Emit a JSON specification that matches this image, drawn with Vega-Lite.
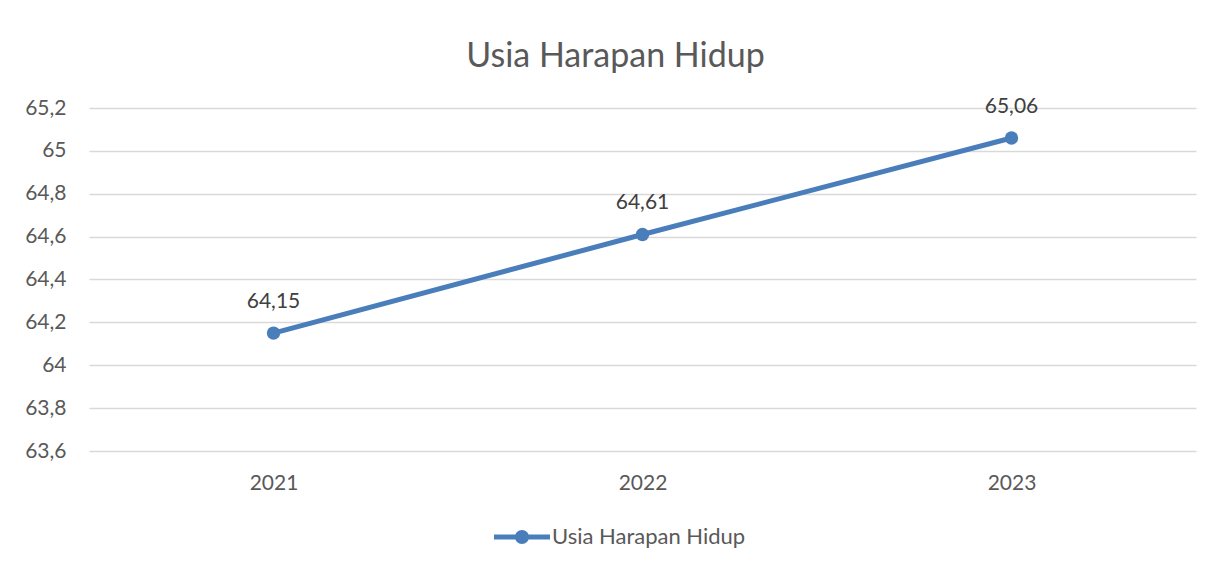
{
  "$schema": "https://vega.github.io/schema/vega-lite/v6.json",
  "width": 1107,
  "height": 343,
  "autosize": {"type": "none"},
  "padding": {"left": 89, "top": 108, "right": 29, "bottom": 115},
  "background": "white",
  "title": {
    "text": "Usia Harapan Hidup",
    "fontSize": 34,
    "font": "Lato",
    "fontWeight": "normal",
    "color": "#595959",
    "anchor": "middle",
    "frame": "group",
    "dx": -27,
    "offset": 22
  },
  "data": {
    "values": [
      {"year": "2021", "value": 64.15, "label": "64,15", "series": "Usia Harapan Hidup"},
      {"year": "2022", "value": 64.61, "label": "64,61", "series": "Usia Harapan Hidup"},
      {"year": "2023", "value": 65.06, "label": "65,06", "series": "Usia Harapan Hidup"}
    ]
  },
  "encoding": {
    "x": {
      "field": "year",
      "type": "nominal",
      "sort": null,
      "scale": {"type": "point", "padding": 0.5},
      "axis": {
        "title": null,
        "labelAngle": 0,
        "domain": false,
        "ticks": false,
        "grid": false,
        "labelPadding": 21,
        "labelFontSize": 21,
        "labelFont": "Lato",
        "labelColor": "#595959"
      }
    },
    "y": {
      "field": "value",
      "type": "quantitative",
      "scale": {"domain": [63.6, 65.2], "nice": false, "zero": false},
      "axis": {
        "title": null,
        "values": [63.6, 63.8, 64, 64.2, 64.4, 64.6, 64.8, 65, 65.2],
        "labelExpr": "replace(format(datum.value, '.1~f'), '.', ',')",
        "domain": false,
        "ticks": false,
        "grid": true,
        "gridColor": "#d9d9d9",
        "gridWidth": 1.5,
        "labelPadding": 23,
        "labelFontSize": 21,
        "labelFont": "Lato",
        "labelColor": "#595959"
      }
    }
  },
  "layer": [
    {
      "mark": {"type": "line", "strokeWidth": 5, "color": "#4a7ebb"},
      "encoding": {
        "color": {
          "field": "series",
          "type": "nominal",
          "scale": {"range": ["#4a7ebb"]},
          "legend": {
            "title": null,
            "orient": "none",
            "legendX": 405,
            "legendY": 401,
            "direction": "horizontal",
            "symbolType": "M -1 -0.09 L 1 -0.09 L 1 0.09 L -1 0.09 Z M -0.25 0 A 0.25 0.25 0 1 1 0.25 0 A 0.25 0.25 0 1 1 -0.25 0 Z",
            "symbolSize": 3136,
            "symbolFillColor": "#4a7ebb",
            "symbolStrokeWidth": 0,
            "labelFontSize": 22,
            "labelFont": "Lato",
            "labelColor": "#595959",
            "labelOffset": 2,
            "labelLimit": 500
          }
        }
      }
    },
    {
      "mark": {"type": "point", "filled": true, "size": 180, "opacity": 1, "color": "#4a7ebb"}
    },
    {
      "mark": {"type": "text", "dy": -31, "fontSize": 21, "font": "Lato", "color": "#404040", "dx": 0},
      "encoding": {"text": {"field": "label"}}
    }
  ],
  "config": {"view": {"stroke": null}}
}
